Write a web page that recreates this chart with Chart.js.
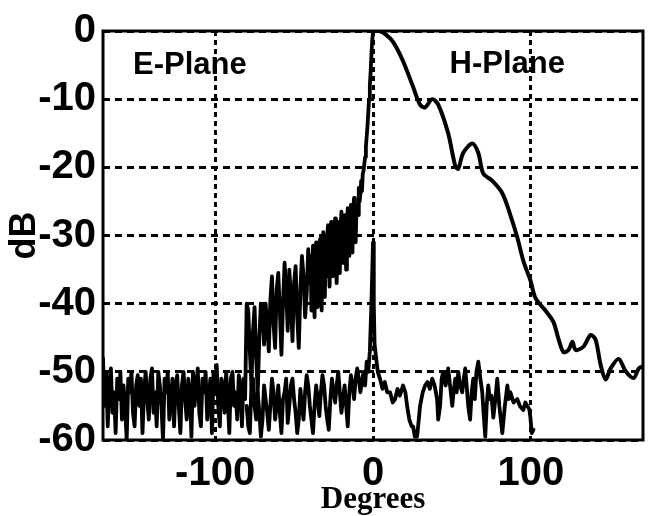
<!DOCTYPE html>
<html>
<head>
<meta charset="utf-8">
<script src="https://cdn.jsdelivr.net/npm/chart.js@4/dist/chart.umd.min.js"></script>
<style>
  html, body { margin: 0; padding: 0; background: #fff; }
  #wrap { width: 650px; height: 516px; }
</style>
</head>
<body>
<div id="wrap"><canvas id="patternChart" width="650" height="516"></canvas></div>
<script>
// tick values
const xTicks = [-100, 0, 100];
const yTicks = [0, -10, -20, -30, -40, -50, -60];

// E-plane (co-pol), left half: noise floor, then rise to the peak at 0 deg
const eDeg = [
  -171, -170, -169, -168, -167, -166, -165, -164, -163, -162,
  -161, -160, -159, -158, -157, -156, -155, -154, -153, -152,
  -151, -150, -149, -148, -147, -146, -145, -144, -143, -142,
  -141, -140, -139, -138, -137, -136, -135, -134, -133, -132,
  -131, -130, -129, -128, -127, -126, -125, -124, -123, -122,
  -121, -120, -119, -118, -117, -116, -115, -114, -113, -112,
  -111, -110, -109, -108, -107, -106, -105, -104, -103, -102,
  -101, -100, -99, -98, -97, -96, -95, -94, -93, -92,
  -91, -90, -89, -88, -87, -86, -85, -84, -83, -82,
  -81,
  -80, -79, -78, -77, -76, -75, -74, -73, -72, -71,
  -70, -69, -68, -67, -66, -65, -64, -63, -62, -61,
  -60, -59, -58, -57, -56, -55, -54, -53, -52, -51,
  -50, -49, -48, -47, -46, -45, -44, -43, -42, -41,
  -40, -39.5, -39, -38.5, -38, -37.5, -37, -36.5, -36, -35.5,
  -35, -34.5, -34, -33.5, -33, -32.5, -32, -31.5, -31, -30.5,
  -30, -29.5, -29, -28.5, -28, -27.5, -27, -26.5, -26, -25.5,
  -25, -24.5, -24, -23.5, -23, -22.5, -22, -21.5, -21, -20.5,
  -20, -19.5, -19, -18.5, -18, -17.5, -17, -16.5, -16, -15.5,
  -15, -14.5, -14, -13.5, -13, -12.5, -12, -11.5, -11, -10.5,
  -10,
  -9.5, -9, -8.5, -8, -7.5, -7, -6.5, -6, -5.5, -5,
  -4.5, -4, -3.5, -3, -2.5, -2, -1.5, -1, -0.5, 0];
const eDb = [
  -48, -55, -50, -58, -52, -49.5, -56, -53, -59, -51,
  -54, -50, -57, -52, -55, -60, -51, -53, -50, -56,
  -58, -52, -50.5, -55, -51, -59, -53, -50, -54, -57,
  -51, -49.5, -56, -53, -58, -50, -52, -55, -60, -51,
  -53, -50, -57, -54, -51, -58, -52, -50.5, -55, -59,
  -52, -50, -54, -57, -51, -53, -59.5, -50, -55, -52,
  -49.5, -56, -58, -51, -53, -50, -57, -54, -51, -59,
  -50, -53, -49, -55, -58, -51, -52, -56, -50, -54,
  -59, -51, -50, -55, -53, -57, -50.5, -52, -58, -51,
  -54,
  -40, -41, -47, -52, -44, -40.5, -48, -53, -45, -40,
  -40.5, -46, -40, -43, -47, -39.5, -36, -43, -46.5, -38,
  -35.5, -41, -47.5, -40, -34, -38, -44, -35, -39, -45.5,
  -37, -34.5, -42, -46.5, -38, -33, -36, -42, -38.5, -32,
  -37, -33, -41, -36, -31.5, -38, -42, -34, -31, -37,
  -40.5, -33, -35.5, -30.5, -38, -41, -33, -29.5, -35, -39,
  -32, -36, -30, -28.5, -34, -37.5, -31, -28, -33, -36,
  -29.5, -31, -27.5, -33.5, -37, -30, -28, -32, -35.5, -29,
  -26.5, -30, -34, -28, -27, -31.5, -35, -28.5, -26, -29,
  -33, -27, -25.5, -30, -32.5, -26, -24.5, -28, -31, -26.5,
  -25.5,
  -27, -23, -25, -24, -22, -23.5, -21, -20.5, -19.5, -18.5,
  -17, -15.5, -14, -12, -10, -8, -6, -3.5, -1.5, 0];

// H-plane, right half: smooth decay from the peak
const hDeg = [0, 4, 8, 12.7, 19, 25.4, 29.8, 33, 37.5, 41.3, 47.6, 52.1, 54, 57.1, 62.9, 66.7, 69.8, 75.6,
  81.9, 87, 91.4, 95.2, 99.7, 102.9, 109.2, 114.3, 117.5, 120.6, 123.8, 126.3, 128.3, 133.3, 137.8, 141,
  144.1, 147.3, 150.5, 155.6, 160, 165.1, 168.3, 171];
const hDb = [0, 0, -0.5, -1.6, -4.4, -8.2, -10.8, -11.2, -10, -10.8, -15, -19.8, -20.2, -17.9, -16.5, -17.9, -20.9, -22,
  -23.8, -27, -30.3, -33.7, -36.6, -39.2, -41, -42.7, -45.2, -47.1, -46.8, -45.6, -46.8, -46.3, -44.6, -45.3,
  -48.9, -51.1, -49.5, -48.1, -49.9, -50.9, -49.5, -49.2];

// low level trace under the main lobe
const lowDeg = [
  -80, -79, -78, -77, -76, -75, -74, -73, -72, -71,
  -70, -69, -68, -67, -66, -65, -64, -63, -62, -61,
  -60, -59, -58, -57, -56, -55, -54, -53, -52, -51,
  -50, -49, -48, -47, -46, -45, -44, -43, -42, -41,
  -40, -39, -38, -37, -36, -35, -34, -33, -32, -31,
  -30, -29, -28, -27, -26, -25, -24, -23, -22, -21,
  -20, -19, -18, -17, -16, -15, -14, -13, -12, -11,
  -10, -9, -8, -7, -6, -5, -4, -3, -2, -1,
  0, 0.5, 1, 2, 3, 4.4, 6, 7.5, 9, 10.8,
  12.5, 14, 15.5, 17, 19, 20.5, 21.6, 23, 24.5, 25.4,
  26.5, 27.9, 29, 29.8, 31.5, 33, 34.5, 36, 37.5, 39,
  40.6, 41.3, 42.5, 43.5, 44.4, 46, 47.6, 48.8, 50.2, 51,
  52.1, 53, 54, 55.2, 56.5, 57.5, 58.4, 59.3, 60.3, 61.5,
  62.5, 63.5, 64.5, 65.5, 66.7, 68, 69.2, 70, 71.1, 72,
  73, 74, 75, 76.2, 77.5, 78.7, 80, 81.9, 83.5, 85.1,
  86, 87, 89, 91.4, 93, 95.2, 96.5, 97.8, 99, 99.7,
  100.5, 101.6];
const lowDb = [
  -55, -58, -59, -52, -51, -55, -57, -53, -56, -59.5,
  -57, -52, -54, -56, -58.5, -55, -51, -53, -57, -55,
  -52, -56, -59, -54, -53, -51, -57.5, -55, -52, -51,
  -54, -56, -59, -57, -52.5, -55, -57, -53, -50.5, -52,
  -55, -57, -59, -55, -52, -54, -56.5, -53, -50.5, -52,
  -55, -57, -58.5, -54, -51, -53, -54.5, -52, -50, -53,
  -56, -54, -52, -55, -58, -53, -50.5, -52, -54, -51,
  -49.5, -51, -53, -51.5, -50, -52, -48.5, -50, -47, -40,
  -31, -40, -46, -48, -50, -51, -52.5, -51.5, -53, -53,
  -54.5, -54, -52.5, -53.5, -52, -53, -55, -57, -58, -58,
  -59.5, -59.5, -57, -55, -53, -52, -51.5, -52.5, -51, -52,
  -54, -57, -55, -51, -50, -52, -49.5, -52, -55, -53,
  -51, -53, -50, -52, -53, -51, -49.5, -52, -55, -57,
  -53, -51, -54, -50, -48.5, -51, -53, -56, -59.5, -55,
  -52, -54, -53.5, -56.7, -54, -51, -55, -59, -55, -52,
  -54, -53, -54.5, -54, -55, -55.6, -54.5, -55, -55.5, -56.7,
  -59, -58.5];

const labelFont = '"Liberation Sans", Arial, sans-serif';

function toPoints(xs, ys) {
  return xs.map((x, i) => ({ x: x, y: ys[i] }));
}

// black frame round the plot area
const framePlugin = {
  id: 'frame',
  afterDatasetsDraw(chart) {
    const { ctx, chartArea } = chart;
    ctx.save();
    ctx.strokeStyle = '#000';
    ctx.lineWidth = 3;
    ctx.strokeRect(chartArea.left, chartArea.top, chartArea.right - chartArea.left, chartArea.bottom - chartArea.top);
    ctx.restore();
  }
};

// "E-Plane" / "H-Plane" captions placed in data coordinates
const planeLabels = [
  { text: 'E-Plane', x: -116, y: -5.1 },
  { text: 'H-Plane', x: 85, y: -4.9 }
];
const captionPlugin = {
  id: 'captions',
  afterDatasetsDraw(chart) {
    const { ctx, scales } = chart;
    ctx.save();
    ctx.fillStyle = '#000';
    ctx.font = 'bold 31px ' + labelFont;
    ctx.textAlign = 'center';
    ctx.textBaseline = 'middle';
    planeLabels.forEach(l => {
      ctx.fillText(l.text, scales.x.getPixelForValue(l.x), scales.y.getPixelForValue(l.y));
    });
    ctx.restore();
  }
};

const lineStyle = {
  showLine: true,
  fill: false,
  borderColor: '#000',
  pointRadius: 0,
  tension: 0,
  borderJoinStyle: 'round',
  borderCapStyle: 'round'
};

new Chart(document.getElementById('patternChart'), {
  type: 'scatter',
  data: {
    datasets: [
      Object.assign({ label: 'E-Plane', data: toPoints(eDeg, eDb), borderWidth: 3.8 }, lineStyle),
      Object.assign({ label: 'Low', data: toPoints(lowDeg, lowDb), borderWidth: 3.8 }, lineStyle),
      Object.assign({ label: 'H-Plane', data: toPoints(hDeg, hDb), borderWidth: 4 }, lineStyle, { tension: 0.3 })
    ]
  },
  options: {
    responsive: false,
    animation: false,
    layout: { padding: { top: 22, right: 7, left: 0, bottom: 0 } },
    plugins: {
      legend: { display: false },
      tooltip: { enabled: false }
    },
    scales: {
      x: {
        type: 'linear',
        min: -171,
        max: 171,
        afterBuildTicks: axis => { axis.ticks = xTicks.map(v => ({ value: v })); },
        afterFit: axis => { axis.height = 76; },
        grid: { color: '#000', lineWidth: 3, drawTicks: false },
        border: { display: false, dash: [5, 4] },
        ticks: { color: '#000', padding: 10, font: { family: labelFont, size: 40, weight: 'bold' } },
        title: {
          display: true,
          text: 'Degrees',
          color: '#000',
          padding: { top: 0, bottom: -3 },
          font: { family: '"Liberation Serif", "Times New Roman", serif', size: 31, weight: 'bold' }
        }
      },
      y: {
        min: -60,
        max: 0,
        afterBuildTicks: axis => { axis.ticks = yTicks.map(v => ({ value: v })); },
        afterFit: axis => { axis.width = 103; },
        grid: { color: '#000', lineWidth: 3, drawTicks: false },
        border: { display: false, dash: [7, 5] },
        ticks: { color: '#000', padding: 7, font: { family: labelFont, size: 40, weight: 'bold' } },
        title: {
          display: true,
          text: 'dB',
          color: '#000',
          padding: { top: 3, bottom: 3 },
          font: { family: labelFont, size: 36, weight: 'bold' }
        }
      }
    }
  },
  plugins: [framePlugin, captionPlugin]
});
</script>
</body>
</html>
